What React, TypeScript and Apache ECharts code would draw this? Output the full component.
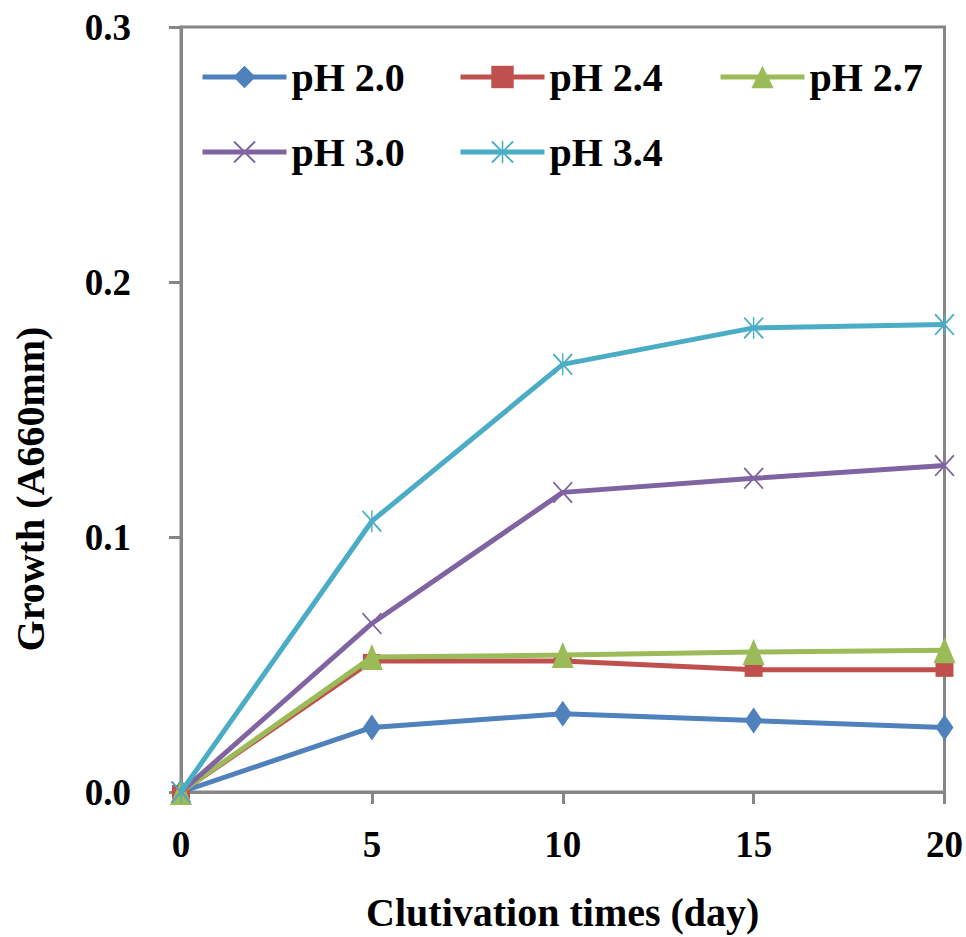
import React, { useEffect, useRef } from "react";
import * as echarts from "echarts";

const days = [0, 5, 10, 15, 20];
const seriesNames = ["pH 2.0", "pH 2.4", "pH 2.7", "pH 3.0", "pH 3.4"];
const ph20 = [0, 0.0253, 0.0307, 0.028, 0.0253];
const ph24 = [0, 0.0514, 0.0514, 0.0479, 0.0479];
const ph27 = [0, 0.0529, 0.0537, 0.0549, 0.0556];
const ph30 = [0, 0.0661, 0.1175, 0.123, 0.128];
const ph34 = [0, 0.1062, 0.1677, 0.182, 0.1833];
const yTicks = [0, 0.1, 0.2, 0.3];
const xTitle = "Clutivation times (day)";
const yTitle = "Growth (A660mm)";

const FONT = "'Liberation Serif', 'Times New Roman', serif";
const colors = ["#4F81BD", "#C0504D", "#9BBB59", "#8064A2", "#4BACC6"];
const xMark =
  "path://M0,1.2 L1.2,0 L20,18.8 L18.8,20 Z M18.8,0 L20,1.2 L1.2,20 L0,18.8 Z";
const starMark =
  "path://M0,1.2 L1.2,0 L20,18.8 L18.8,20 Z M18.8,0 L20,1.2 L1.2,20 L0,18.8 Z M9.3,0 L10.7,0 L10.7,20 L9.3,20 Z";

export default function App() {
  const ref = useRef<HTMLDivElement>(null);
  useEffect(() => {
    if (!ref.current) return;
    const chart = echarts.init(ref.current, null, { renderer: "svg" });
    const all = [ph20, ph24, ph27, ph30, ph34];
    const symbols: any[] = ["diamond", "rect", "triangle", xMark, starMark];
    const sizes: any[] = [[18, 26], [18, 14], [22, 26], [20, 22], [20, 22]];
    const series = all.map((vals, i) => ({
      name: seriesNames[i],
      type: "line",
      data: days.map((d, j) => [d, vals[j]]),
      symbol: symbols[i],
      symbolSize: sizes[i],
      showSymbol: true,
      lineStyle: { width: 5, color: colors[i] },
      itemStyle: { color: colors[i], borderWidth: 0 },
      z: 2 + i,
    }));
    const legendText = {
      fontFamily: FONT,
      fontWeight: "bold",
      fontSize: 40,
      color: "#000",
    };
    const legendPos = [
      [200, 57],
      [458, 57],
      [718, 57],
      [200, 132],
      [458, 132],
    ];
    const legends = seriesNames.map((n, i) => ({
      data: [n],
      left: legendPos[i][0],
      top: legendPos[i][1],
      itemWidth: 84,
      itemHeight: 28,
      itemGap: 0,
      padding: 0,
      textStyle: legendText,
      lineStyle: { width: 5 },
      selectedMode: false,
    }));
    chart.setOption({
      animation: false,
      backgroundColor: "#fff",
      color: colors,
      grid: {
        left: 181,
        right: 20,
        top: 27,
        bottom: 139,
        show: true,
        borderColor: "#868686",
        borderWidth: 3,
        containLabel: false,
      },
      legend: legends,
      graphic: [
        {
          type: "text",
          x: 30,
          y: 489,
          rotation: Math.PI / 2,
          style: {
            text: yTitle,
            font: `bold 40px ${FONT}`,
            fill: "#000",
            align: "center",
            verticalAlign: "middle",
          },
        },
      ],
      xAxis: {
        type: "value",
        min: 0,
        max: 20,
        interval: 5,
        name: xTitle,
        nameLocation: "middle",
        nameGap: 100,
        nameTextStyle: { fontFamily: FONT, fontWeight: "bold", fontSize: 40, color: "#000" },
        axisLine: { show: true, lineStyle: { color: "#868686", width: 3 } },
        axisTick: { show: true, length: 12, lineStyle: { color: "#868686", width: 3 } },
        axisLabel: { fontFamily: FONT, fontWeight: "bold", fontSize: 37, color: "#000", margin: 34 },
        splitLine: { show: false },
      },
      yAxis: {
        type: "value",
        min: 0,
        max: 0.3,
        interval: 0.1,
        axisLine: { show: true, lineStyle: { color: "#868686", width: 3 } },
        axisTick: { show: true, length: 12, lineStyle: { color: "#868686", width: 3 } },
        axisLabel: {
          fontFamily: FONT,
          fontWeight: "bold",
          fontSize: 37,
          color: "#000",
          margin: 50,
          formatter: (v: number) => {
            const t = yTicks.find((x) => Math.abs(x - v) < 1e-9);
            return (t !== undefined ? t : v).toFixed(1);
          },
        },
        splitLine: { show: false },
      },
      series,
    });
    return () => chart.dispose();
  }, []);
  return (
    <div
      ref={ref}
      style={{ position: "absolute", left: 0, top: 0, width: 966, height: 937 }}
    />
  );
}
